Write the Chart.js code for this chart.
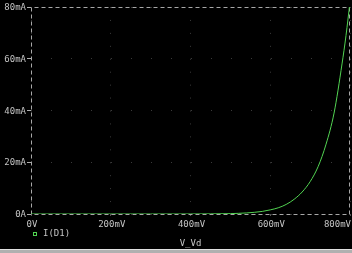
<!DOCTYPE html>
<html><head><meta charset="utf-8">
<script src="https://cdn.jsdelivr.net/npm/chart.js@4.4.1/dist/chart.umd.min.js"></script>
<style>
html,body{margin:0;padding:0;background:#000;overflow:hidden;}
#wrap{position:relative;width:352px;height:249px;}
#bar{width:352px;height:4px;background:#b0b0b0;border-top:1px solid #e0e0e0;box-sizing:border-box;}
</style></head>
<body>
<div id="wrap"><canvas id="c" width="352" height="249"></canvas></div>
<div id="bar"></div>
<script>
// Data (V in mV, I in mA)
const voltages = [0, 100, 200, 300, 400, 450, 500, 520, 540, 560, 580, 600, 620, 640, 660, 680, 700, 720, 740, 760, 780, 790, 800];
const currents = [0, 0, 0, 0, 0.01, 0.05, 0.15, 0.25, 0.4, 0.65, 1.0, 1.6, 2.4, 3.7, 5.7, 8.5, 12.5, 18.3, 27, 39, 58, 69, 82];
const seriesName = 'I(D1)';
const xAxisTitle = 'V_Vd';
const xTickValues = [0, 200, 400, 600, 800];
const xTickLabels = ['0V', '200mV', '400mV', '600mV', '800mV'];
const yTickValues = [0, 20, 40, 60, 80];
const yTickLabels = ['0A', '20mA', '40mA', '60mA', '80mA'];

const FONT = '9px "DejaVu Sans Mono", monospace';
const TXT = '#c4c4c4';
const GREEN = '#52d452';

const overlay = {
  id: 'overlay',
  beforeDatasetsDraw(chart) {
    const {ctx, chartArea: a} = chart;
    ctx.save();
    ctx.strokeStyle = '#a8a8a8';
    ctx.lineWidth = 1;
    ctx.setLineDash([4, 3]);
    ctx.beginPath();
    ctx.moveTo(a.left + 0.5, a.bottom + 0.5); ctx.lineTo(a.left + 0.5, a.top + 0.5);
    ctx.lineTo(a.right - 0.5, a.top + 0.5); ctx.lineTo(a.right - 0.5, a.bottom + 0.5);
    ctx.lineTo(a.left + 0.5, a.bottom + 0.5);
    ctx.stroke();
    ctx.restore();
  },
  afterDraw(chart) {
    const {ctx, chartArea: a, scales: {x, y}} = chart;
    ctx.save();
    ctx.font = FONT;
    ctx.fillStyle = TXT;
    ctx.textBaseline = 'middle';
    ctx.textAlign = 'right';
    yTickValues.forEach((v, i) => ctx.fillText(yTickLabels[i], 26, Math.round(y.getPixelForValue(v)) + 0.5));
    ctx.textBaseline = 'top';
    xTickValues.forEach((v, i) => {
      const px = x.getPixelForValue(v);
      if (i === xTickValues.length - 1) { ctx.textAlign = 'right'; ctx.fillText(xTickLabels[i], px + 1, 220); }
      else { ctx.textAlign = 'center'; ctx.fillText(xTickLabels[i], px + 1, 220); }
    });
    // legend
    ctx.strokeStyle = GREEN;
    ctx.lineWidth = 1;
    ctx.strokeRect(33.5, 232.5, 3, 3);
    ctx.textAlign = 'left';
    ctx.textBaseline = 'middle';
    ctx.fillText(seriesName, 43, 234);
    // axis title
    ctx.textAlign = 'center';
    ctx.fillText(xAxisTitle, (a.left + a.right) / 2, 244);
    ctx.restore();
  }
};

new Chart(document.getElementById('c'), {
  type: 'line',
  data: {
    datasets: [{
      label: seriesName,
      data: voltages.map((v, i) => ({x: v, y: currents[i]})),
      borderColor: GREEN,
      borderWidth: 1,
      pointRadius: 0,
      cubicInterpolationMode: 'monotone',
      fill: false
    }]
  },
  options: {
    responsive: false,
    animation: false,
    events: [],
    layout: {padding: {top: 7, right: 2, left: 0, bottom: 0}},
    plugins: {legend: {display: false}, tooltip: {enabled: false}},
    scales: {
      x: {
        type: 'linear', min: 0, max: 800,
        ticks: {display: false, stepSize: 200},
        grid: {color: '#3a3a3a', drawTicks: true, tickLength: 2, tickColor: '#555555'},
        border: {display: false, dash: [1, 11.9375]},
        afterFit: s => { s.height = 35; }
      },
      y: {
        type: 'linear', min: 0, max: 80,
        ticks: {display: false, stepSize: 20},
        grid: {color: '#3a3a3a', drawTicks: true, tickLength: 4, tickColor: '#b0b0b0'},
        border: {display: false, dash: [1, 19]},
        afterFit: s => { s.height = s.height; s.width = 31; }
      }
    }
  },
  plugins: [overlay]
});
</script>
</body></html>
